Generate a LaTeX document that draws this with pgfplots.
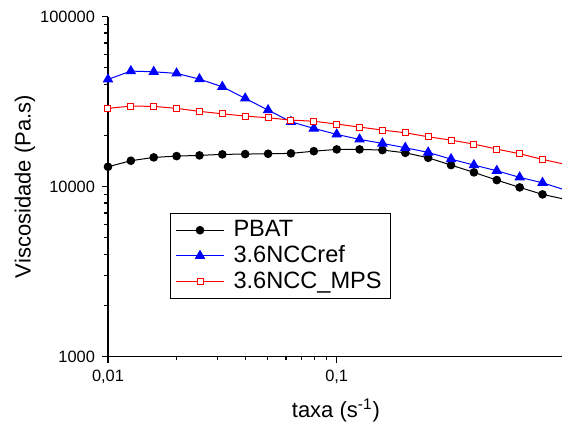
\documentclass[border=0pt]{standalone}
\usepackage{pgfplots}
\pgfplotsset{compat=1.18}
\usepackage{pgfplotstable}
\usepackage{fontspec}
\setmainfont{Liberation Sans}
\pgfplotstableread{
x pbat ref mps
0.01 13080 42720 28840
0.012589 14190 47800 29760
0.015849 14850 47330 29640
0.019953 15110 46330 28840
0.025119 15260 42870 27700
0.031623 15470 38650 26800
0.039811 15530 33020 25980
0.050119 15600 28180 25390
0.063096 15680 24050 24610
0.079433 16150 21990 24230
0.1 16550 20280 23320
0.12589 16550 18950 22390
0.15849 16400 17950 21500
0.19953 15800 16920 20730
0.25119 14770 15890 19630
0.31623 13380 14510 18770
0.39811 12120 13380 17780
0.50119 10920 12390 16620
0.63096 9890 11330 15600
0.79433 8996 10530 14450
1.0 8410 9540 13510
}\datatable
\begin{document}
\begin{tikzpicture}
\path[use as bounding box] (-54pt,-33pt) rectangle (227pt,178.3pt);
\begin{axis}[
  at={(0,0)}, anchor=south west,
  scale only axis, width=227pt, height=170pt,
  xmode=log, ymode=log,
  xmin=0.01, xmax=0.9663, ymin=1000, ymax=100000,
  axis lines*=left,
  axis line style={-, line width=0.65pt},
  tick align=outside,
  major tick length=3pt, minor tick length=1.8pt,
  every tick/.style={black, line width=0.6pt},
  xtick={0.01,0.1}, xticklabels={{0,01},{0,1}},
  ytick={1000,10000,100000}, yticklabels={1000,10000,100000},
  tick label style={font=\fontsize{8.2}{9}\selectfont},
  xlabel={taxa (s\textsuperscript{-1})},
  ylabel={Viscosidade (Pa.s)},
  every axis x label/.style={at={(axis description cs:0.502,-0.159)}, anchor=center, font=\fontsize{11}{13}\selectfont},
  every axis y label/.style={at={(axis description cs:-0.183,0.5)}, rotate=90, anchor=center, font=\fontsize{11}{13}\selectfont},
  legend style={at={(axis description cs:0.1366,0.422)}, anchor=north west,
    draw=black, line width=0.5pt, font=\fontsize{11.8}{13}\selectfont,
    row sep=-1pt, column sep=2.5pt, inner xsep=2.5pt, inner ysep=1.5pt},
  legend cell align=left,
  legend image code/.code={\draw[mark repeat=2,mark phase=2,#1] plot coordinates {(0pt,0pt)(12pt,0pt)(24pt,0pt)};},
]
\addplot[black, line width=0.5pt, mark=*, mark size=1.9pt, mark options={fill=black}] table[x=x,y=pbat] {\datatable};
\addlegendentry{PBAT}
\addplot[blue, line width=0.5pt, mark=triangle*, mark size=2.6pt, mark options={fill=blue}] table[x=x,y=ref] {\datatable};
\addlegendentry{3.6NCCref}
\addplot[red, line width=0.5pt, mark=square*, mark size=1.5pt, mark options={fill=white, draw=red}] table[x=x,y=mps] {\datatable};
\addlegendentry{3.6NCC\_MPS}
\end{axis}
\end{tikzpicture}
\end{document}
